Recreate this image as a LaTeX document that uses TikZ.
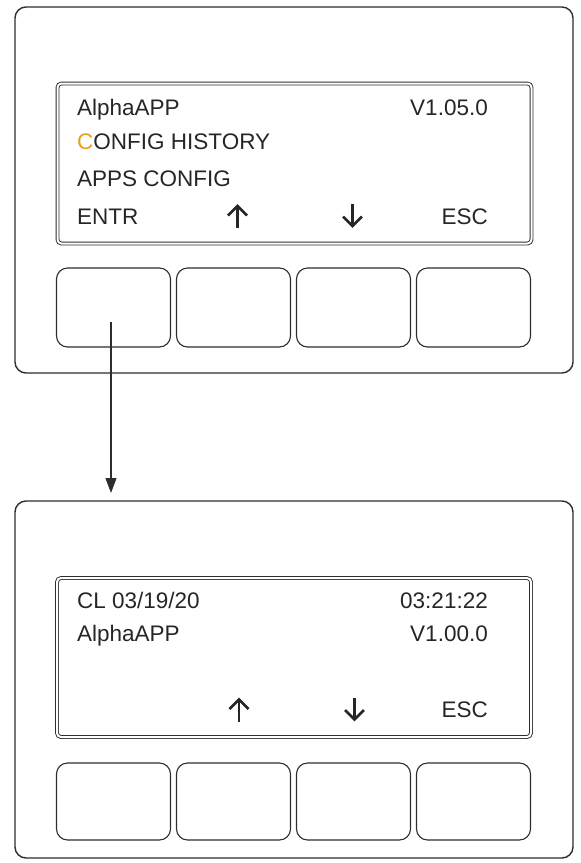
\documentclass[tikz,border=0pt]{standalone}
\usepackage{fontspec}
\setmainfont{Liberation Sans}
\usepackage{xcolor}
\usepackage{tikz}
\usetikzlibrary{positioning,arrows.meta}

\definecolor{lineGray}{RGB}{45,45,45}
\definecolor{keyOrange}{RGB}{236,156,34}

\tikzset{
  upGlyph/.style={minimum width=30pt, minimum height=32pt, inner sep=0pt,
    path picture={
      \draw[line width=2.6pt, black!85]
        ([yshift=-12pt]path picture bounding box.center)
        -- ([yshift=10pt]path picture bounding box.center);
      \draw[line width=2.6pt, black!85, miter limit=3]
        ([xshift=-9.5pt,yshift=0.5pt]path picture bounding box.center)
        -- ([yshift=10pt]path picture bounding box.center)
        -- ([xshift=9.5pt,yshift=0.5pt]path picture bounding box.center);
    }},
  downGlyph/.style={upGlyph, rotate=180}
}

\begin{document}
\begin{tikzpicture}[
  x=1pt, y=-1pt,
  panelBox/.style={draw=lineGray, line width=1.4pt, rounded corners=11pt,
                   minimum width=558pt, inner sep=0pt},
  screenBox/.style={draw=lineGray, double=white, double distance=2pt,
                    line width=0.9pt, rounded corners=4pt, inner sep=0pt},
  keyBox/.style={draw=lineGray, line width=1.1pt, rounded corners=11pt,
                 minimum width=114pt, inner sep=0pt},
  lcdText/.style={font=\fontsize{22.5}{27}\selectfont, text=black!85,
                  inner sep=0pt},
  >={Triangle[length=15pt,width=11pt]}
]
  \useasboundingbox (0,0) rectangle (581,863);

  % upper display
  \node[panelBox, minimum height=366pt] (panelA) at (294,190) {};
  \node[screenBox, minimum width=474pt, minimum height=160pt] (screenA) at (294.5,163.5) {};
  \node[lcdText, anchor=base west] (nameA) at (77,115) {AlphaAPP};
  \node[lcdText, anchor=base east] (verA) at (488,115) {V1.05.0};
  \node[lcdText, anchor=base west] (histA) at (77,149) {\textcolor{keyOrange}{C}ONFIG HISTORY};
  \node[lcdText, anchor=base west] (cfgA) at (77,186) {APPS CONFIG};
  \node[lcdText, anchor=base west] (entrA) at (77,224) {ENTR};
  \node[upGlyph] (upA) at (237.5,216) {};
  \node[downGlyph] (downA) at (352.5,216) {};
  \node[lcdText, anchor=base east] (escA) at (488,224) {ESC};
  \foreach \i in {1,...,4}
    \node[keyBox, minimum height=79pt] (keyA\i) at (113.5+120*\i-120,307.5) {};

  % lower display
  \node[panelBox, minimum height=357pt] (panelB) at (294,679.5) {};
  \node[screenBox, minimum width=474pt, minimum height=159pt] (screenB) at (294,657.5) {};
  \node[lcdText, anchor=base west] (dateB) at (77,608) {CL 03/19/20};
  \node[lcdText, anchor=base east] (timeB) at (488,608) {03:21:22};
  \node[lcdText, anchor=base west] (nameB) at (77,641) {AlphaAPP};
  \node[lcdText, anchor=base east] (verB) at (488,641) {V1.00.0};
  \node[upGlyph] (upB) at (239,709.5) {};
  \node[downGlyph] (downB) at (354.5,709.5) {};
  \node[lcdText, anchor=base east] (escB) at (488,717) {ESC};
  \foreach \i in {1,...,4}
    \node[keyBox, minimum height=77pt] (keyB\i) at (113.5+120*\i-120,801.5) {};

  % ENTR pressed
  \coordinate (pressStart) at (111,322);
  \coordinate (pressEnd) at (111,493);
  \draw[->, lineGray, line width=1.1pt] (pressStart) -- (pressEnd);
\end{tikzpicture}
\end{document}
